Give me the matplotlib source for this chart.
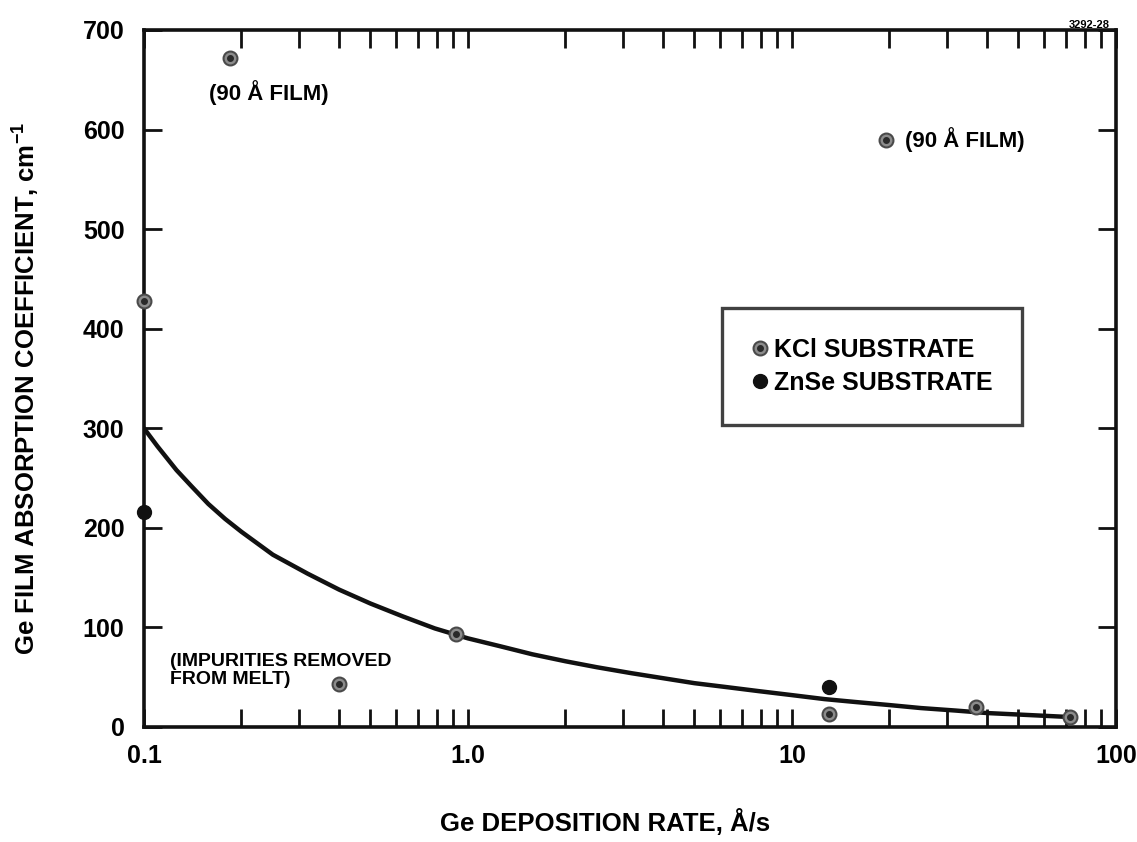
import matplotlib.pyplot as plt
from matplotlib.lines import Line2D
from matplotlib.ticker import FixedLocator, LogLocator, NullFormatter

plt.rcParams['font.family'] = ['Liberation Sans', 'DejaVu Sans']
plt.rcParams['font.weight'] = 'bold'
plt.rcParams['axes.labelweight'] = 'bold'
plt.rcParams['mathtext.fontset'] = 'custom'
plt.rcParams['mathtext.rm'] = 'Liberation Sans:bold'
plt.rcParams['mathtext.bf'] = 'Liberation Sans:bold'

# measured points, KCl substrate
kcl_rate = [0.1, 0.184, 0.40, 0.92, 13, 19.5, 37, 72]
kcl_coef = [428, 672, 43, 93, 13, 590, 20, 10]

# measured points, ZnSe substrate
znse_rate = [0.1, 13]
znse_coef = [216, 40]

# hand drawn trend curve
curve_rate = [0.1, 0.11, 0.126, 0.14, 0.158, 0.178, 0.2, 0.25, 0.32, 0.4, 0.5,
              0.63, 0.79, 1.0, 1.26, 1.58, 2.0, 2.5, 3.2, 4.0, 5.0, 6.3, 7.9,
              10, 12.6, 15.8, 20, 25, 32, 40, 50, 72]
curve_coef = [300, 282, 258, 242, 224, 209, 196, 173, 154, 138, 124,
              111, 99, 89, 81, 73, 66, 60, 54, 49, 44, 40, 36,
              32, 28, 25, 22, 19, 16.5, 14, 12.5, 10]

x_ticks = [0.1, 1.0, 10, 100]
x_labels = ['0.1', '1.0', '10', '100']
y_ticks = [0, 100, 200, 300, 400, 500, 600, 700]

fig = plt.figure(figsize=(11.37, 8.42), dpi=100)
ax = fig.add_axes([0.1266, 0.1366, 0.8549, 0.8278])

ax.plot(curve_rate, curve_coef, color='#111111', lw=3.2, zorder=2,
        solid_capstyle='round', solid_joinstyle='round')

kcl_ring = dict(ls='none', marker='o', ms=10, mfc='#8c8c8c', mec='#4a4a4a', mew=1.5)
kcl_dot = dict(ls='none', marker='o', ms=4, mfc='#2a2a2a', mec='#2a2a2a')
znse_dot = dict(ls='none', marker='o', ms=10, mfc='#111111', mec='#111111')

ax.plot(kcl_rate, kcl_coef, zorder=3, clip_on=False, **kcl_ring)
ax.plot(kcl_rate, kcl_coef, zorder=4, clip_on=False, **kcl_dot)
ax.plot(znse_rate, znse_coef, zorder=3, clip_on=False, **znse_dot)

ax.set_xscale('log')
ax.set_xlim(0.1, 100)
ax.set_ylim(0, 700)
ax.xaxis.set_major_locator(FixedLocator(x_ticks))
ax.set_xticklabels(x_labels)
ax.xaxis.set_minor_locator(LogLocator(base=10, subs=[2, 3, 4, 5, 6, 7, 8, 9]))
ax.xaxis.set_minor_formatter(NullFormatter())
ax.set_yticks(y_ticks)

ax.tick_params(axis='both', which='both', direction='in', top=True, right=True,
               length=13, width=2, color='#111111')
ax.tick_params(axis='x', which='major', pad=12, labelsize=18)
ax.tick_params(axis='y', which='major', pad=14, labelsize=18)
for s in ax.spines.values():
    s.set_linewidth(2.6)
    s.set_color('#111111')

ax.set_xlabel('Ge DEPOSITION RATE, Å/s', fontsize=18.5)
ax.xaxis.set_label_coords(0.474, -0.118)
ax.set_ylabel('Ge FILM ABSORPTION COEFFICIENT, cm$^{-1}$', fontsize=18.5)
ax.yaxis.set_label_coords(-0.106, 0.485)

ax.text(0.159, 637, '(90 Å FILM)', fontsize=16, ha='left', va='center')
ax.text(22.4, 590, '(90 Å FILM)', fontsize=16, ha='left', va='center')
ax.text(0.12, 57, '(IMPURITIES REMOVED\nFROM MELT)', fontsize=14, ha='left',
        va='center', linespacing=1.05)

fig.text(0.958, 0.970, '3292-28', fontsize=8, ha='center', va='center')

h_kcl = (Line2D([], [], **kcl_ring), Line2D([], [], **kcl_dot))
h_znse = Line2D([], [], **znse_dot)
leg = ax.legend([h_kcl, h_znse], ['KCl SUBSTRATE', 'ZnSe SUBSTRATE'],
                loc='upper left', bbox_to_anchor=(0.595, 0.601), fontsize=18,
                frameon=True, fancybox=False, edgecolor='#111111',
                borderpad=1.2, labelspacing=0.35, handlelength=0.6,
                handletextpad=0.25, borderaxespad=0)
leg.get_frame().set_linewidth(2.4)

fig.savefig('out.png', dpi=100)
